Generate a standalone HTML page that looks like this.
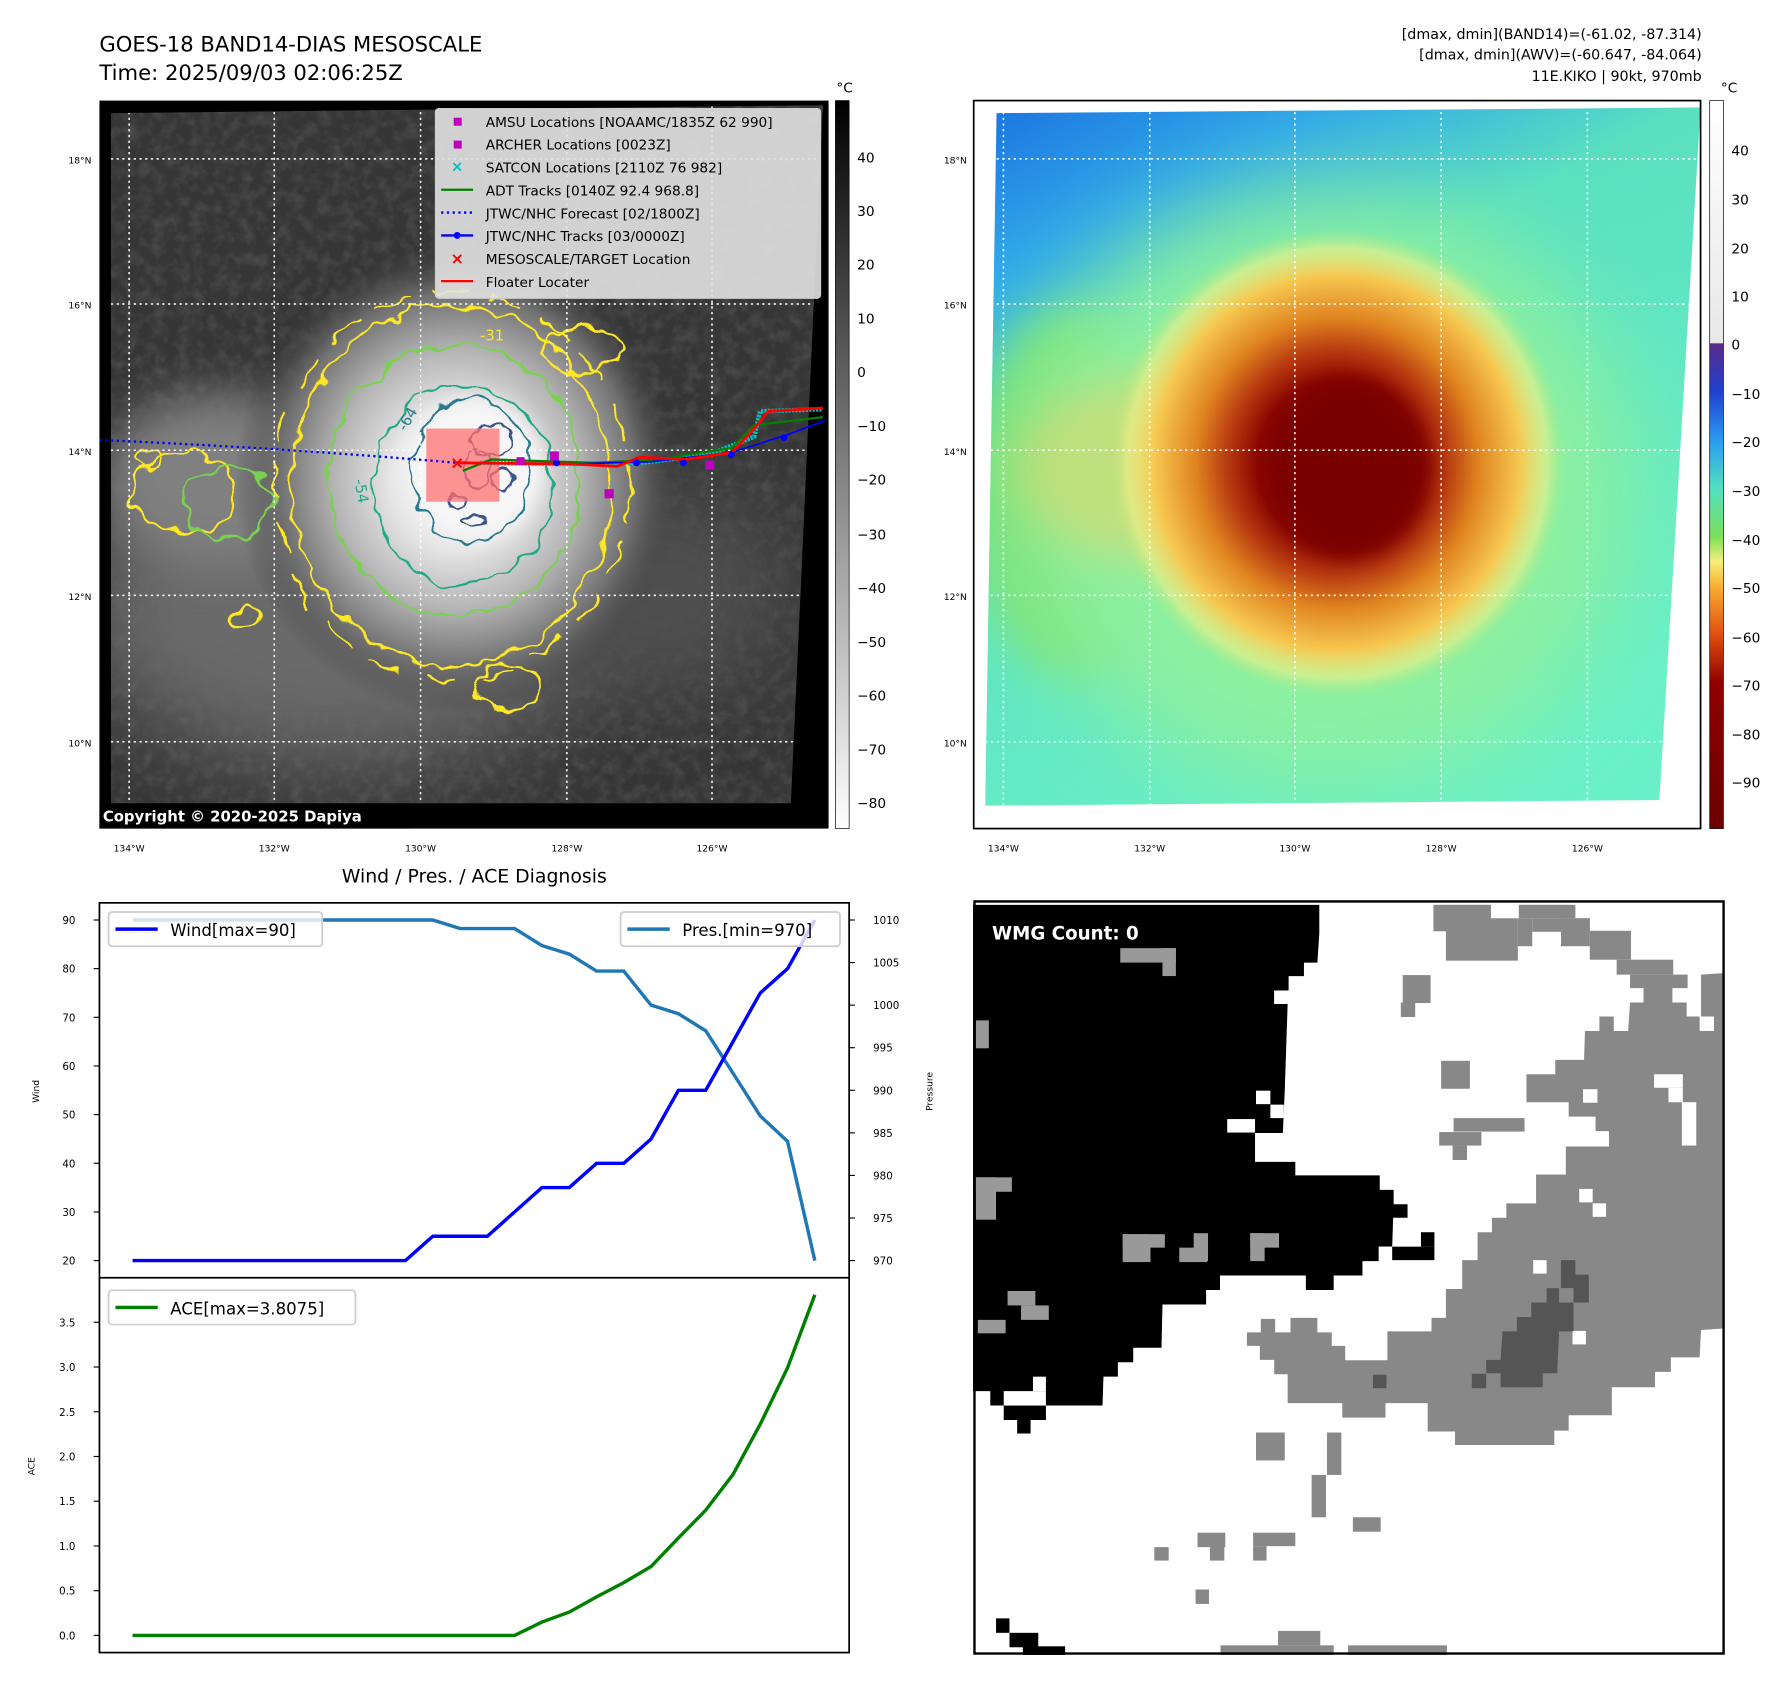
<!DOCTYPE html>
<html><head><meta charset="utf-8"><style>
html,body{margin:0;padding:0;background:#fff;}
svg{display:block;font-family:"DejaVu Sans","Liberation Sans",sans-serif;}
</style></head><body>
<svg id="fig" width="1792" height="1690" viewBox="0 0 1568 1478.75" preserveAspectRatio="none" xmlns="http://www.w3.org/2000/svg">
<defs>
  <filter id="blur8" x="-50%" y="-50%" width="200%" height="200%"><feGaussianBlur stdDeviation="8"/></filter>
  <filter id="blur20" x="-50%" y="-50%" width="200%" height="200%"><feGaussianBlur stdDeviation="20"/></filter>
  <filter id="blur40" x="-50%" y="-50%" width="200%" height="200%"><feGaussianBlur stdDeviation="40"/></filter>
  <filter id="wiggle" x="-20%" y="-20%" width="140%" height="140%">
    <feTurbulence type="fractalNoise" baseFrequency="0.05" numOctaves="2" seed="3"/>
    <feDisplacementMap in="SourceGraphic" scale="18" xChannelSelector="R" yChannelSelector="G"/>
  </filter>
  <filter id="wiggle2" x="-20%" y="-20%" width="140%" height="140%">
    <feTurbulence type="fractalNoise" baseFrequency="0.08" numOctaves="2" seed="7"/>
    <feDisplacementMap in="SourceGraphic" scale="10" xChannelSelector="R" yChannelSelector="G"/>
  </filter>
  <filter id="texture" x="0" y="0" width="100%" height="100%">
    <feTurbulence type="fractalNoise" baseFrequency="0.09" numOctaves="3" seed="5" result="n"/>
    <feColorMatrix in="n" type="matrix" values="0 0 0 0 1  0 0 0 0 1  0 0 0 0 1  0 0 0 0.22 -0.09"/>
  </filter>
  <clipPath id="clipL"><polygon points="97,99 720,92 692,703 97,703"/></clipPath>
  <clipPath id="clipR"><polygon points="872,99 1488,94 1452,700 862,705"/></clipPath>
  <linearGradient id="cbL" x1="0" y1="0" x2="0" y2="1">
    <stop offset="0" stop-color="#000"/><stop offset="1" stop-color="#fff"/>
  </linearGradient>
  <linearGradient id="cbR" x1="0" y1="0" x2="0" y2="1">
    <stop offset="0" stop-color="#ffffff"/>
    <stop offset="0.333" stop-color="#e8e8e8"/>
    <stop offset="0.334" stop-color="#5a2a8a"/>
    <stop offset="0.40" stop-color="#2040d0"/>
    <stop offset="0.467" stop-color="#2a9cf0"/>
    <stop offset="0.533" stop-color="#50e0c0"/>
    <stop offset="0.60" stop-color="#7ee05a"/>
    <stop offset="0.633" stop-color="#f5f07a"/>
    <stop offset="0.667" stop-color="#f8b030"/>
    <stop offset="0.733" stop-color="#e05010"/>
    <stop offset="0.80" stop-color="#900000"/>
    <stop offset="1" stop-color="#6a0000"/>
  </linearGradient>
  <linearGradient id="bgR" x1="0" y1="0" x2="0.5" y2="1">
    <stop offset="0" stop-color="#1a70e0"/>
    <stop offset="0.2" stop-color="#30a8e8"/>
    <stop offset="0.4" stop-color="#5ae0c0"/>
    <stop offset="1" stop-color="#6af0c8"/>
  </linearGradient>
  <radialGradient id="cloudL" cx="0.5" cy="0.5" r="0.5">
    <stop offset="0" stop-color="#f4f4f4"/>
    <stop offset="0.3" stop-color="#e6e6e6"/>
    <stop offset="0.55" stop-color="#b5b5b5"/>
    <stop offset="0.8" stop-color="#707070"/>
    <stop offset="1" stop-color="#404040" stop-opacity="0"/>
  </radialGradient>
  <radialGradient id="stormR" cx="0.5" cy="0.5" r="0.5">
    <stop offset="0" stop-color="#7a0000"/>
    <stop offset="0.35" stop-color="#8a0600"/>
    <stop offset="0.48" stop-color="#b83a10"/>
    <stop offset="0.62" stop-color="#e08420"/>
    <stop offset="0.80" stop-color="#f6c850"/>
    <stop offset="0.92" stop-color="#f0f088" stop-opacity="0.6"/>
    <stop offset="1" stop-color="#b8e87a" stop-opacity="0"/>
  </radialGradient>
</defs>

<text x="87" y="45" font-size="18.5">GOES-18 BAND14-DIAS MESOSCALE</text>
<text x="87" y="70" font-size="18.5">Time: 2025/09/03 02:06:25Z</text>
<g font-size="12.5" text-anchor="end">
  <text x="1489" y="34">[dmax, dmin](BAND14)=(-61.02, -87.314)</text>
  <text x="1489" y="52">[dmax, dmin](AWV)=(-60.647, -84.064)</text>
  <text x="1489" y="71">11E.KIKO | 90kt, 970mb</text>
</g>

<g>
  <rect x="87" y="88" width="638" height="637" fill="#000"/>
  <g clip-path="url(#clipL)">
    <rect x="87" y="88" width="638" height="637" fill="#363636"/>
    <rect x="87" y="88" width="638" height="637" filter="url(#texture)"/>
    <ellipse cx="300" cy="530" rx="230" ry="140" fill="#6a6a6a" filter="url(#blur40)"/>
    <ellipse cx="190" cy="420" rx="100" ry="75" fill="#808080" filter="url(#blur20)"/>
    <ellipse cx="580" cy="520" rx="110" ry="90" fill="#505050" filter="url(#blur40)"/>
    <ellipse cx="400" cy="420" rx="195" ry="205" fill="url(#cloudL)"/>
    <ellipse cx="415" cy="410" rx="60" ry="62" fill="#f6f6f6" filter="url(#blur8)"/>
    <g fill="none" stroke-width="2" filter="url(#wiggle)">
      <ellipse cx="395" cy="425" rx="140" ry="158" stroke="#fde725"/>
      <ellipse cx="395" cy="425" rx="155" ry="170" stroke="#fde725" stroke-dasharray="30 20"/>
      <ellipse cx="160" cy="430" rx="45" ry="35" stroke="#fde725"/>
      <ellipse cx="130" cy="400" rx="12" ry="8" stroke="#fde725"/>
      <ellipse cx="215" cy="540" rx="14" ry="10" stroke="#fde725"/>
      <ellipse cx="445" cy="600" rx="30" ry="20" stroke="#fde725"/>
      <ellipse cx="510" cy="305" rx="35" ry="20" stroke="#fde725"/>
      <ellipse cx="398" cy="420" rx="110" ry="118" stroke="#7ad151"/>
      <ellipse cx="200" cy="440" rx="40" ry="30" stroke="#7ad151"/>
      <ellipse cx="405" cy="425" rx="78" ry="88" stroke="#22a884"/>
      <ellipse cx="412" cy="412" rx="52" ry="62" stroke="#2a788e"/>
    </g>
    <g fill="none" stroke="#3b528b" stroke-width="2" filter="url(#wiggle2)">
      <ellipse cx="430" cy="385" rx="18" ry="14"/>
      <ellipse cx="418" cy="410" rx="12" ry="18"/>
      <ellipse cx="440" cy="420" rx="8" ry="10"/>
      <ellipse cx="400" cy="440" rx="6" ry="6"/>
      <ellipse cx="415" cy="455" rx="12" ry="4"/>
    </g>
    <text x="420" y="298" font-size="13" fill="#fde725">-31</text>
    <text x="355" y="378" font-size="13" fill="#2a788e" transform="rotate(-60 355 378)">-64</text>
    <text x="310" y="420" font-size="13" fill="#22a884" transform="rotate(80 310 420)">-54</text>
    <g stroke="#fff" stroke-width="1.3" stroke-dasharray="2 3">
      <line x1="113" y1="88" x2="113" y2="725"/><line x1="240" y1="88" x2="240" y2="725"/>
      <line x1="368" y1="88" x2="368" y2="725"/><line x1="496" y1="88" x2="496" y2="725"/>
      <line x1="623" y1="88" x2="623" y2="725"/>
      <line x1="87" y1="139" x2="725" y2="139"/><line x1="87" y1="266" x2="725" y2="266"/>
      <line x1="87" y1="394" x2="725" y2="394"/><line x1="87" y1="521" x2="725" y2="521"/>
      <line x1="87" y1="649" x2="725" y2="649"/>
    </g>
  </g>
  <rect x="373" y="375" width="64" height="64" fill="#ff7070" fill-opacity="0.75"/>
  <path d="M87,385 Q250,392 400,405" fill="none" stroke="#0000ff" stroke-width="2" stroke-dasharray="2 3"/>
  <polyline points="420,405 500,406 560,405 620,398 660,382 665,360 720,358" fill="none" stroke="#00c0c0" stroke-width="4" stroke-dasharray="2 1"/>
  <polyline points="405,412 430,402 520,405 580,402 600,398 640,392 660,372 720,365" fill="none" stroke="#008000" stroke-width="2"/>
  <polyline points="400,405 500,406 570,404 640,396 690,380 722,368" fill="none" stroke="#0000ff" stroke-width="1.5"/>
  <polyline points="400,405 500,406 540,408 560,400 600,402 640,396 660,375 672,360 720,357" fill="none" stroke="#ff0000" stroke-width="2.5"/>
  <g fill="#0000ff"><circle cx="487" cy="405" r="3"/><circle cx="557" cy="405" r="3"/><circle cx="598" cy="405" r="3"/><circle cx="640" cy="398" r="3"/><circle cx="686" cy="383" r="3"/></g>
  <g fill="#c000c0"><rect x="481" y="395" width="8" height="8"/><rect x="529" y="428" width="8" height="8"/><rect x="617" y="403" width="8" height="8"/><rect x="452" y="400" width="7" height="7"/></g>
  <text x="400" y="410" font-size="15" fill="#ff0000" text-anchor="middle" font-weight="bold">×</text>
  <g>
    <rect x="381" y="95" width="337" height="166" rx="3" fill="#e2e2e2" fill-opacity="0.9" stroke="#ccc"/>
    <g font-size="12" fill="#000">
      <rect x="397" y="103" width="7" height="7" fill="#c000c0"/><text x="425" y="111">AMSU Locations [NOAAMC/1835Z 62 990]</text>
      <rect x="397" y="123" width="7" height="7" fill="#c000c0"/><text x="425" y="131">ARCHER Locations [0023Z]</text>
      <text x="400" y="150" fill="#00c0c0" font-size="13" text-anchor="middle" font-weight="bold">×</text><text x="425" y="151">SATCON Locations [2110Z 76 982]</text>
      <line x1="386" y1="166" x2="414" y2="166" stroke="#008000" stroke-width="2"/><text x="425" y="171">ADT Tracks [0140Z 92.4 968.8]</text>
      <line x1="386" y1="186" x2="414" y2="186" stroke="#0000ff" stroke-width="2" stroke-dasharray="2 3"/><text x="425" y="191">JTWC/NHC Forecast [02/1800Z]</text>
      <line x1="386" y1="206" x2="414" y2="206" stroke="#0000ff" stroke-width="2"/><circle cx="400" cy="206" r="3" fill="#0000ff"/><text x="425" y="211">JTWC/NHC Tracks [03/0000Z]</text>
      <text x="400" y="231" fill="#ff0000" font-size="14" text-anchor="middle" font-weight="bold">×</text><text x="425" y="231">MESOSCALE/TARGET Location</text>
      <line x1="386" y1="246" x2="414" y2="246" stroke="#ff0000" stroke-width="2"/><text x="425" y="251">Floater Locater</text>
    </g>
  </g>
  <rect x="87" y="703" width="272" height="22" fill="#000"/>
  <text x="90" y="719" font-size="13" font-weight="bold" fill="#fff">Copyright © 2020-2025 Dapiya</text>
  <g font-size="8" text-anchor="end">
    <text x="80" y="143">18°N</text><text x="80" y="270">16°N</text><text x="80" y="398">14°N</text><text x="80" y="525">12°N</text><text x="80" y="653">10°N</text>
  </g>
  <g font-size="8" text-anchor="middle">
    <text x="113" y="745">134°W</text><text x="240" y="745">132°W</text><text x="368" y="745">130°W</text><text x="496" y="745">128°W</text><text x="623" y="745">126°W</text>
  </g>
</g>
<g>
  <rect x="731" y="88" width="12" height="637" fill="url(#cbL)" stroke="#000" stroke-width="0.6"/>
  <text x="739" y="81" font-size="12" text-anchor="middle">°C</text>
  <g font-size="12">
    <text x="750" y="142">40</text><text x="750" y="189">30</text><text x="750" y="236">20</text><text x="750" y="283">10</text><text x="750" y="330">0</text>
    <text x="750" y="377">−10</text><text x="750" y="424">−20</text><text x="750" y="472">−30</text><text x="750" y="519">−40</text><text x="750" y="566">−50</text>
    <text x="750" y="613">−60</text><text x="750" y="660">−70</text><text x="750" y="707">−80</text>
  </g>
</g>

<g>
  <rect x="852" y="88" width="636" height="637" fill="#fff"/>
  <g clip-path="url(#clipR)">
    <rect x="852" y="88" width="640" height="640" fill="url(#bgR)"/>
    <ellipse cx="940" cy="430" rx="90" ry="160" fill="#7be070" filter="url(#blur20)"/>
    <ellipse cx="1160" cy="430" rx="270" ry="260" fill="#8cf0a0" filter="url(#blur40)"/>
    <ellipse cx="1000" cy="410" rx="110" ry="80" fill="#f5d060" opacity="0.5" filter="url(#blur20)"/>
    <ellipse cx="1170" cy="405" rx="200" ry="205" fill="url(#stormR)"/>
    <ellipse cx="1180" cy="410" rx="70" ry="78" fill="#7a0000" filter="url(#blur8)"/>
    <g stroke="#fff" stroke-width="1.3" stroke-dasharray="2 3">
      <line x1="878" y1="88" x2="878" y2="725"/><line x1="1006" y1="88" x2="1006" y2="725"/>
      <line x1="1133" y1="88" x2="1133" y2="725"/><line x1="1261" y1="88" x2="1261" y2="725"/>
      <line x1="1389" y1="88" x2="1389" y2="725"/>
      <line x1="852" y1="139" x2="1488" y2="139"/><line x1="852" y1="266" x2="1488" y2="266"/>
      <line x1="852" y1="394" x2="1488" y2="394"/><line x1="852" y1="521" x2="1488" y2="521"/>
      <line x1="852" y1="649" x2="1488" y2="649"/>
    </g>
  </g>
  <rect x="852" y="88" width="636" height="637" fill="none" stroke="#000" stroke-width="1.5"/>
  <g font-size="8" text-anchor="end">
    <text x="846" y="143">18°N</text><text x="846" y="270">16°N</text><text x="846" y="398">14°N</text><text x="846" y="525">12°N</text><text x="846" y="653">10°N</text>
  </g>
  <g font-size="8" text-anchor="middle">
    <text x="878" y="745">134°W</text><text x="1006" y="745">132°W</text><text x="1133" y="745">130°W</text><text x="1261" y="745">128°W</text><text x="1389" y="745">126°W</text>
  </g>
</g>
<g>
  <rect x="1496" y="88" width="12" height="637" fill="url(#cbR)" stroke="#000" stroke-width="0.6"/>
  <text x="1513" y="81" font-size="12" text-anchor="middle">°C</text>
  <g font-size="12">
    <text x="1515" y="136">40</text><text x="1515" y="179">30</text><text x="1515" y="222">20</text><text x="1515" y="264">10</text><text x="1515" y="306">0</text>
    <text x="1515" y="349">−10</text><text x="1515" y="391">−20</text><text x="1515" y="434">−30</text><text x="1515" y="477">−40</text><text x="1515" y="519">−50</text>
    <text x="1515" y="562">−60</text><text x="1515" y="604">−70</text><text x="1515" y="647">−80</text><text x="1515" y="689">−90</text>
  </g>
</g>

<g id="diag">
  <text x="415" y="772" font-size="16.5" text-anchor="middle">Wind / Pres. / ACE Diagnosis</text>
  <rect x="87" y="790" width="656" height="656" fill="#fff" stroke="#000" stroke-width="1.5"/>
  <line x1="87" y1="1118" x2="743" y2="1118" stroke="#000" stroke-width="1.5"/>
  <text x="34" y="955" font-size="8" text-anchor="middle" transform="rotate(-90 34 955)">Wind</text>
  <text x="816" y="955" font-size="8" text-anchor="middle" transform="rotate(-90 816 955)">Pressure</text>
  <text x="30" y="1283" font-size="8" text-anchor="middle" transform="rotate(-90 30 1283)">ACE</text>
  <g id="diagMarks"></g>
  <g>
    <rect x="95" y="798" width="187" height="30" rx="3" fill="#fff" fill-opacity="0.8" stroke="#ccc" stroke-width="1.5"/>
    <line x1="101" y1="813" x2="138" y2="813" stroke="#0000ff" stroke-width="3"/>
    <text x="149" y="819" font-size="14.5">Wind[max=90]</text>
  </g>
  <g>
    <rect x="543" y="798" width="192" height="30" rx="3" fill="#fff" fill-opacity="0.8" stroke="#ccc" stroke-width="1.5"/>
    <line x1="549" y1="813" x2="586" y2="813" stroke="#1f77b4" stroke-width="3"/>
    <text x="597" y="819" font-size="14.5">Pres.[min=970]</text>
  </g>
  <g>
    <rect x="95" y="1129" width="216" height="30" rx="3" fill="#fff" fill-opacity="0.8" stroke="#ccc" stroke-width="1.5"/>
    <line x1="101" y1="1144" x2="138" y2="1144" stroke="#008000" stroke-width="3"/>
    <text x="149" y="1150" font-size="14.5">ACE[max=3.8075]</text>
  </g>
</g>

<g>
<svg x="851.4" y="787.5" width="658" height="660.6" viewBox="0 0 1568 1568" preserveAspectRatio="none">
  <rect x="0" y="0" width="1568" height="1568" fill="#fff"/>
  <polygon fill="#000" points="0,10 722,10 722,70 718,130 690,130 690,158 658,158 658,188 628,188 628,216 656,216 650,396 646,484 588,484 588,544 672,544 672,572 848,572 848,602 877,602 877,632 906,632 906,660 876,660 874,720 846,720 846,750 812,750 812,780 752,780 752,810 694,810 694,780 515,780 515,810 486,810 486,840 395,840 393,930 334,930 334,960 302,960 302,990 272,990 270,1050 152,1050 152,1080 120,1080 120,1108 92,1108 92,1080 64,1080 64,1050 36,1050 36,1020 0,1020"/>
  <g fill="#fff"><rect x="628" y="188" width="30" height="28"/><rect x="590" y="396" width="30" height="28"/><rect x="530" y="455" width="58" height="28"/><rect x="620" y="425" width="28" height="28"/><rect x="125" y="990" width="27" height="30"/><rect x="64" y="1020" width="88" height="30"/><rect x="846" y="720" width="28" height="30"/></g>
  <g fill="#000"><rect x="934" y="690" width="28" height="30"/><rect x="874" y="720" width="88" height="28"/><rect x="48" y="1492" width="28" height="30"/><rect x="76" y="1522" width="60" height="30"/><rect x="104" y="1550" width="88" height="18"/></g>
  <g fill="#999"><rect x="307" y="100" width="116" height="30"/><rect x="395" y="100" width="28" height="58"/><rect x="6" y="250" width="27" height="58"/><rect x="6" y="576" width="75" height="30"/><rect x="6" y="576" width="42" height="88"/><rect x="312" y="694" width="88" height="28"/><rect x="312" y="694" width="58" height="58"/><rect x="430" y="722" width="58" height="30"/><rect x="460" y="692" width="30" height="58"/><rect x="578" y="692" width="60" height="30"/><rect x="578" y="692" width="30" height="58"/><rect x="72" y="812" width="58" height="30"/><rect x="100" y="842" width="58" height="30"/><rect x="10" y="872" width="58" height="28"/></g>
  <g fill="#888">
    <rect x="960" y="10" width="120" height="55"/><rect x="1138" y="10" width="118" height="28"/><rect x="986" y="38" width="150" height="88"/><rect x="1136" y="38" width="30" height="58"/><rect x="1166" y="38" width="120" height="28"/><rect x="1226" y="38" width="60" height="58"/><rect x="1286" y="64" width="86" height="60"/><rect x="1342" y="124" width="118" height="31"/><rect x="1370" y="155" width="120" height="28"/><rect x="1398" y="183" width="60" height="30"/>
    <polygon points="1518,155 1565,152 1565,890 1518,893 1515,950 1455,950 1455,980 1422,980 1422,1012 1332,1012 1332,1070 1242,1070 1242,1102 1212,1102 1212,1132 1005,1132 1005,1104 948,1104 948,1045 860,1045 860,1075 770,1075 770,1045 656,1045 656,985 628,985 628,955 598,955 598,926 571,926 571,898 600,898 600,870 630,870 630,898 662,898 662,868 718,868 718,898 748,898 748,926 776,926 776,956 864,956 864,896 956,896 956,868 986,868 986,808 1020,808 1020,748 1052,748 1052,690 1082,690 1082,660 1112,660 1112,630 1174,630 1174,570 1236,570 1236,512 1326,512 1326,480 1298,480 1298,450 1242,450 1242,420 1154,420 1154,362 1214,362 1214,332 1274,332 1276,272 1306,272 1306,242 1336,242 1336,272 1366,272 1370,213 1398,213 1398,183 1458,183 1458,213 1488,213 1488,242 1518,242"/>
    <rect x="896" y="156" width="58" height="58"/><rect x="892" y="213" width="30" height="30"/><rect x="976" y="334" width="60" height="58"/><rect x="1002" y="453" width="148" height="28"/><rect x="972" y="482" width="88" height="28"/><rect x="1000" y="510" width="30" height="30"/>
    <rect x="590" y="1106" width="60" height="58"/><rect x="738" y="1106" width="30" height="88"/><rect x="706" y="1194" width="30" height="88"/><rect x="792" y="1282" width="58" height="30"/><rect x="468" y="1314" width="58" height="30"/><rect x="494" y="1342" width="30" height="30"/><rect x="584" y="1314" width="88" height="28"/><rect x="584" y="1342" width="28" height="30"/><rect x="378" y="1344" width="30" height="28"/><rect x="464" y="1432" width="28" height="30"/><rect x="636" y="1518" width="88" height="30"/><rect x="516" y="1548" width="236" height="20"/><rect x="782" y="1548" width="206" height="20"/>
  </g>
  <g fill="#fff"><rect x="1420" y="362" width="60" height="28"/><rect x="1450" y="390" width="30" height="30"/><rect x="1478" y="420" width="30" height="90"/><rect x="1272" y="393" width="30" height="28"/><rect x="1264" y="600" width="28" height="28"/><rect x="1292" y="630" width="28" height="28"/><rect x="1168" y="748" width="28" height="28"/><rect x="1250" y="895" width="28" height="28"/><rect x="1515" y="242" width="30" height="30"/></g>
  <g fill="#555">
    <polygon points="1226,748 1256,748 1256,778 1284,778 1284,836 1252,836 1252,896 1222,896 1218,983 1188,983 1188,1012 1100,1012 1100,983 1070,983 1070,955 1100,955 1104,896 1134,896 1134,866 1164,866 1164,836 1196,836 1196,806 1226,806"/>
    <rect x="834" y="986" width="28" height="28"/><rect x="1040" y="984" width="30" height="30"/>
  </g>
  <rect x="1222" y="806" width="30" height="30" fill="#888"/>
  <rect x="3" y="3" width="1562" height="1562" fill="none" stroke="#000" stroke-width="5"/>
</svg>
<text x="868" y="822" font-size="16" font-weight="bold" fill="#fff">WMG Count: 0</text>
</g>

<script>
const windValues = [20,20,20,20,20,20,20,20,20,20,20,25,25,25,30,35,35,40,40,45,55,55,65,75,80,90];
const pressureValues = [1010,1010,1010,1010,1010,1010,1010,1010,1010,1010,1010,1010,1009,1009,1009,1007,1006,1004,1004,1000,999,997,992,987,984,970];
const aceValues = [0,0,0,0,0,0,0,0,0,0,0,0,0,0,0,0.15,0.26,0.43,0.59,0.77,1.09,1.40,1.80,2.36,2.99,3.8075];
const windTicks = [20,30,40,50,60,70,80,90];
const pressureTicks = [970,975,980,985,990,995,1000,1005,1010];
const aceTicks = [0.0,0.5,1.0,1.5,2.0,2.5,3.0,3.5];

(function(){
  const NS = 'http://www.w3.org/2000/svg';
  const g = document.getElementById('diagMarks');
  const n = windValues.length;
  const xScale = i => 116 + i * (713 - 116) / (n - 1);
  const yWind = v => 1103 - (v - 20) * (1103 - 805) / 70;
  const yPres = v => 1103 - (v - 970) * (1103 - 805) / 40;
  const yAce = v => 1431 - v * (1431 - 1157) / 3.5;
  function mk(tag, attrs){ const e = document.createElementNS(NS, tag); for (const k in attrs) e.setAttribute(k, attrs[k]); g.appendChild(e); return e; }
  windTicks.forEach(t => {
    const y = yWind(t);
    const l = mk('line', {x1:82, x2:87, y1:y, y2:y, stroke:'#000', 'stroke-width':1});
    
    
    const tx = mk('text', {x:66, y:y+3.5, 'font-size':9, 'text-anchor':'end'});
    tx.textContent = t;
    
    
  });
  pressureTicks.forEach(t => {
    const y = yPres(t);
    const l = mk('line', {x1:743, x2:748, y1:y, y2:y, stroke:'#000', 'stroke-width':1});
    
    
    const tx = mk('text', {x:764, y:y+3.5, 'font-size':9});
    tx.textContent = t;
    
    
  });
  aceTicks.forEach(t => {
    const y = yAce(t);
    const l = mk('line', {x1:82, x2:87, y1:y, y2:y, stroke:'#000', 'stroke-width':1});
    
    
    const tx = mk('text', {x:66, y:y+3.5, 'font-size':9, 'text-anchor':'end'});
    tx.textContent = t.toFixed(1);
    
    
  });
  const pl = (arr, fy) => arr.map((v,i) => xScale(i).toFixed(1) + ',' + fy(v).toFixed(1)).join(' ');
  const pres = mk('polyline', {points: pl(pressureValues, yPres), fill:'none', stroke:'#1f77b4', 'stroke-width':3});
  
  
  const wind = mk('polyline', {points: pl(windValues, yWind), fill:'none', stroke:'#0000ff', 'stroke-width':3});
  
  
  const ace = mk('polyline', {points: pl(aceValues, yAce), fill:'none', stroke:'#008000', 'stroke-width':3});
  
  
})();
</script>
</svg>
</body></html>
